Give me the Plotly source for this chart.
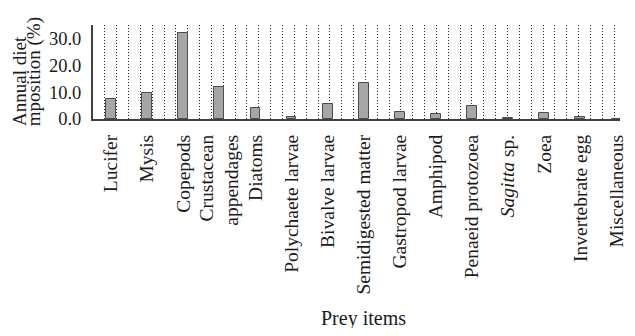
import plotly.graph_objects as go

categories = ["Lucifer", "Mysis", "Copepods", "Crustacean<br>appendages", "Diatoms",
              "Polychaete larvae", "Bivalve larvae", "Semidigested matter",
              "Gastropod larvae", "Amphipod", "Penaeid protozoea", "<i>Sagitta</i> sp.",
              "Zoea", "Invertebrate egg", "Miscellaneous"]
values = [7.5, 9.6, 32.1, 11.9, 4.1, 0.6, 5.7, 13.4, 2.5, 2.0, 4.8, 0.4, 2.1, 0.6, 0.1]
y_ticks = [0, 10, 20, 30]
y_tick_labels = ["0.0", "10.0", "20.0", "30.0"]

FONT = "Liberation Serif"
OFF = 8  # page body margin in the browser
W, H = 635 - 2 * OFF, 336 - 2 * OFF
ML, MR, MT = 93 - OFF, 0, 25 - OFF
pw = W - ML - MR
ph = 94
MB = H - MT - ph
PITCH = 36.58  # px per category in the reference


def px_x(x):  # window pixel -> paper x
    return (x - OFF - ML) / pw


def px_y(y):  # window pixel -> paper y
    return (MT + ph - (y - OFF)) / ph


TXT = "#1a1a1a"

fig = go.Figure()
fig.add_trace(go.Bar(
    x=categories, y=values, width=0.27,
    marker=dict(color="#a6a6a6", line=dict(color="#4d4d4d", width=1)),
    showlegend=False, hoverinfo="skip",
))
# empty trace to host the gridline axis
fig.add_trace(go.Scatter(x=[], y=[], xaxis="x2", showlegend=False))

fig.update_layout(
    width=W, height=H,
    margin=dict(l=ML, r=MR, t=MT, b=MB, pad=0),
    paper_bgcolor="white", plot_bgcolor="white",
    font=dict(family=FONT, size=19, color=TXT),
    bargap=0,
    xaxis=dict(
        type="category", range=[-0.5, -0.5 + pw / PITCH],
        tickangle=-90, showgrid=False, ticklabeloverflow="allow",
        showline=True, linecolor="#404040", linewidth=2,
        ticks="outside", ticklen=6, tickcolor="rgba(0,0,0,0)",
        tickfont=dict(family=FONT, size=19.5, color=TXT),
        zeroline=False,
    ),
    xaxis2=dict(
        overlaying="x", side="bottom", range=[0, pw / 12.0], dtick=1,
        showgrid=True, gridcolor="#222222", gridwidth=1, griddash="1px,2px",
        showticklabels=False, showline=False, zeroline=False, ticks="",
    ),
    yaxis=dict(
        range=[0, 35], tickvals=y_ticks, ticktext=y_tick_labels,
        showgrid=False, zeroline=False,
        showline=True, linecolor="#404040", linewidth=2,
        ticks="outside", ticklen=6, tickcolor="rgba(0,0,0,0)",
        tickfont=dict(family=FONT, size=18.5, color=TXT),
    ),
    annotations=[
        dict(text="Annual diet", textangle=-90,
             xref="paper", yref="paper", x=px_x(18), y=px_y(128),
             xanchor="center", yanchor="bottom", showarrow=False,
             font=dict(family=FONT, size=19, color=TXT)),
        dict(text="mposition (%)", textangle=-90,
             xref="paper", yref="paper", x=px_x(33), y=px_y(128),
             xanchor="center", yanchor="bottom", showarrow=False,
             font=dict(family=FONT, size=19, color=TXT)),
        dict(text="Prey items", xref="paper", yref="paper",
             x=px_x(367), y=px_y(318),
             xanchor="center", yanchor="middle", showarrow=False,
             font=dict(family=FONT, size=20, color=TXT)),
    ],
)

fig.write_html("out.html")
